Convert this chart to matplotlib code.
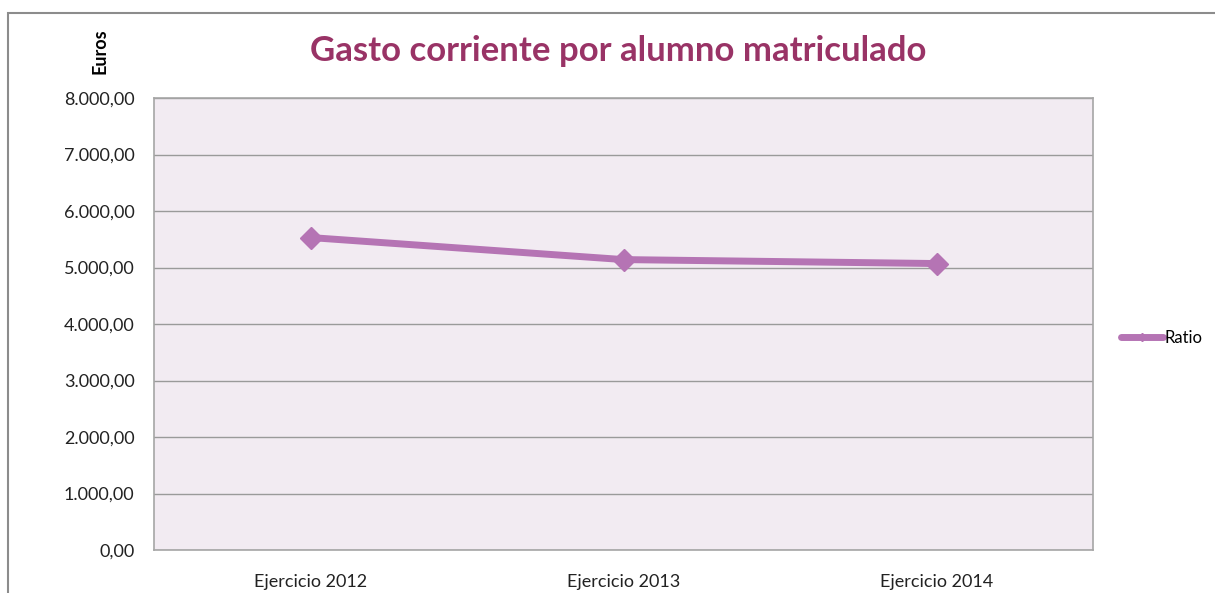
import matplotlib.pyplot as plt
from matplotlib.patches import Rectangle
from matplotlib.ticker import FuncFormatter

ejercicios = ['Ejercicio 2012', 'Ejercicio 2013', 'Ejercicio 2014']
ratio = [5530, 5140, 5070]
y_ticks = [0, 1000, 2000, 3000, 4000, 5000, 6000, 7000, 8000]

plt.rcParams['font.family'] = ['Lato', 'DejaVu Sans']

fig = plt.figure(figsize=(12.15, 5.93), dpi=100)
W, H = 1215, 593
ax = fig.add_axes([154 / W, 1 - 550 / H, (1093 - 154) / W, (550 - 98) / H])

# outer chart frame (cut at right / bottom like the screenshot)
fig.patches.append(Rectangle((8 / W, -0.05), 1.2, 1 - 13 / H + 0.05, transform=fig.transFigure,
                             fill=False, edgecolor='#8c8c8c', linewidth=1.5))

ax.set_facecolor('#f2ebf2')
x = range(len(ejercicios))
ax.plot(x, ratio, color='#b574b4', linewidth=5, marker='D', markersize=11,
        label='Ratio', solid_capstyle='round')
ax.set_xlim(-0.5, 2.5)
ax.set_ylim(0, 8000)
ax.set_yticks(y_ticks)
ax.yaxis.set_major_formatter(FuncFormatter(
    lambda v, p: '{:,.2f}'.format(v).replace(',', 'X').replace('.', ',').replace('X', '.')))
ax.set_xticks(list(x))
ax.set_xticklabels(ejercicios)
ax.tick_params(axis='both', length=0, labelsize=13, colors='#222222')
ax.tick_params(axis='y', pad=14)
ax.tick_params(axis='x', pad=17)
ax.grid(axis='y', color='#9a9a9a', linewidth=1)
ax.set_axisbelow(True)
for s in ax.spines.values():
    s.set_color('#a6a6a6')
    s.set_linewidth(1.2)

fig.text(310 / W, 1 - 51 / H, 'Gasto corriente por alumno matriculado', fontsize=25,
         fontweight='bold', color='#993366', va='center', ha='left')
fig.text(100 / W, 1 - 51 / H, 'Euros', rotation=90, fontsize=13, fontweight='bold',
         va='center', ha='center')

leg = ax.legend(loc='center left', bbox_to_anchor=(1.03, 0.47), frameon=False,
                fontsize=12, handlelength=2.5, handletextpad=0.1, markerscale=0.4,
                borderaxespad=0, borderpad=0)

fig.savefig('out.png', dpi=100, facecolor='white')
